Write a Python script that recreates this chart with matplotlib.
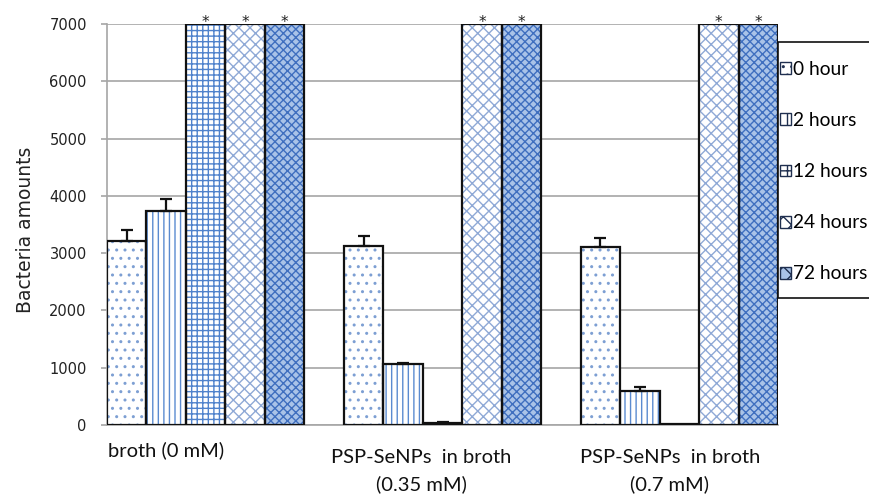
import numpy as np
import matplotlib
matplotlib.use('Agg')
import matplotlib.pyplot as plt
from matplotlib.patches import Patch, Rectangle


groups = ['broth (0 mM)', 'PSP-SeNPs  in broth\n(0.35 mM)', 'PSP-SeNPs  in broth\n(0.7 mM)']
series = ['0 hour', '2 hours', '12 hours', '24 hours', '72 hours']

# bars that run off the 7000 scale are capped at 7000 and marked with *
h0 = [3216, 3124, 3112]
h0_err = [187, 174, 151]
h2 = [3735, 1059, 588]
h2_err = [204, 28, 70]
h12 = [7000, 30, 15]
h12_err = [0, 22, 0]
h24 = [7000, 7000, 7000]
h24_err = [0, 0, 0]
h72 = [7000, 7000, 7000]
h72_err = [0, 0, 0]
off_scale = [
    [False, False, False],
    [False, False, False],
    [True, False, False],
    [True, True, True],
    [True, True, True],
]

values = [h0, h2, h12, h24, h72]
errors = [h0_err, h2_err, h12_err, h24_err, h72_err]

# look of each series: face colour, hatch colour, hatch
faces = ['white', 'white', 'white', 'white', '#a9c3e8']
hatch_cols = ['#7d9fd3', '#5b8bd0', '#4f82cc', '#8fa9d6', '#3f6fbf']
hatches = ['..', '|||', '+++', 'xxx', 'xxxx']

plt.rcParams['hatch.linewidth'] = 1.0

W, H = 870, 496
fig = plt.figure(figsize=(W / 100, H / 100), dpi=100)
ax = fig.add_axes([107 / W, 1 - 425 / H, (778 - 107) / W, (425 - 24) / H])

step = 6.0
centers = np.arange(len(groups)) * step + 2
width = 1.0

for i in range(len(series)):
    x = centers + (i - 2) * width
    ax.bar(x, values[i], width, color=faces[i], edgecolor=hatch_cols[i],
           hatch=hatches[i], linewidth=0, zorder=2)
    ax.bar(x, values[i], width, fill=False, edgecolor='#111111',
           linewidth=1.6, zorder=3)
    err = np.array(errors[i])
    show = err > 0
    if show.any():
        ax.errorbar(x[show], np.array(values[i])[show],
                    yerr=[np.zeros(show.sum()), err[show]], fmt='none',
                    ecolor='#111111', elinewidth=1.6, capsize=4.5,
                    capthick=1.6, zorder=4)
    for j in range(len(groups)):
        if off_scale[i][j]:
            ax.annotate('*', (x[j], 7000), xytext=(0, 2), textcoords='offset pixels',
                        ha='center', va='center', fontsize=11, color='#222222',
                        annotation_clip=False)

ax.set_ylim(0, 7000)
ax.set_xlim(centers[0] - 2.5, centers[-1] + 2.5)
ax.set_yticks(np.arange(0, 7001, 1000))
ax.set_yticklabels([str(v) for v in range(0, 7001, 1000)], fontsize=10.5,
                   family='DejaVu Sans', color='#222222')
ax.set_xticks([])
ax.yaxis.grid(True, color='#a6a6a6', linewidth=1.2, zorder=0)
ax.set_axisbelow(True)
for s in ['top', 'right']:
    ax.spines[s].set_visible(False)
ax.spines['left'].set_color('#a6a6a6')
ax.spines['bottom'].set_color('#a6a6a6')
ax.spines['left'].set_linewidth(1.2)
ax.spines['bottom'].set_linewidth(1.2)
ax.tick_params(axis='y', length=4, color='#a6a6a6', width=1.2, pad=10.5)
ax.set_ylabel('Bacteria amounts', fontsize=13.5, family='DejaVu Sans',
              color='#222222')
ax.yaxis.set_label_coords(-0.107, 0.486)

# category labels sit a little left of their groups, as in the original
label_shift = [-1.0, -0.54, -0.24]
label_y = [-0.04, -0.06, -0.06]
for j, g in enumerate(groups):
    ax.text(centers[j] + label_shift[j], label_y[j], g,
            transform=ax.get_xaxis_transform(), ha='center', va='top',
            fontsize=14.5, family='Lato', color='#111111', linespacing=1.6)

# legend box runs past the right edge of the picture, as in the original
frame = Rectangle((778 / W, 1 - 298 / H), 110 / W, 256 / H, transform=fig.transFigure,
                  facecolor='white', edgecolor='#111111', linewidth=1.2, zorder=4)
fig.add_artist(frame)

handles = [Patch(facecolor=faces[i], edgecolor='#1f2f4f', hatch=hatches[i][:2],
                 linewidth=1.0) for i in range(len(series))]
leg = fig.legend(handles, series, loc='upper left',
                 bbox_to_anchor=(780 / W, 1 - 61 / H), frameon=False,
                 prop={'family': 'Lato', 'size': 13.8}, handlelength=0.58,
                 handleheight=0.58, handletextpad=0.1, labelspacing=1.78,
                 borderpad=0, borderaxespad=0)
leg.set_zorder(5)

fig.savefig('out.png', dpi=100)
